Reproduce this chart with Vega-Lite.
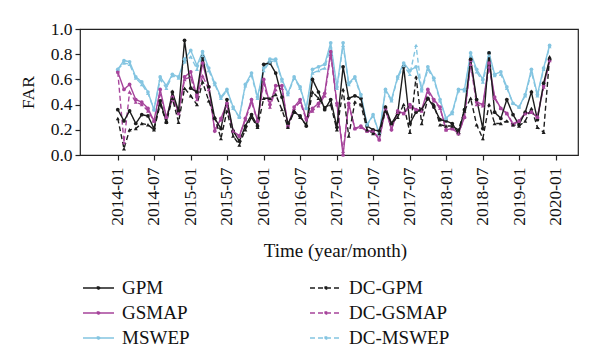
{
  "$schema": "https://vega.github.io/schema/vega-lite/v6.json",
  "width": 498,
  "height": 126,
  "autosize": "none",
  "padding": {"left": 80, "top": 29, "right": 22, "bottom": 208},
  "background": "white",
  "config": {
    "font": "Liberation Serif",
    "view": {"stroke": "#222", "strokeWidth": 1.2},
    "axis": {
      "labelFont": "Liberation Serif", "titleFont": "Liberation Serif",
      "labelColor": "#111", "titleColor": "#111",
      "labelFontSize": 17.5, "titleFontSize": 19, "titleFontWeight": "normal",
      "domain": false, "grid": false, "tickColor": "#222", "tickSize": 5, "tickWidth": 1.2
    }
  },
  "data": {"values": [
    {"month":"2014-01","GPM":0.36,"DC-GPM":0.29,"GSMAP":0.66,"DC-GSMAP":0.66,"MSWEP":0.68,"DC-MSWEP":0.68},
    {"month":"2014-02","GPM":0.27,"DC-GPM":0.05,"GSMAP":0.52,"DC-GSMAP":0.10,"MSWEP":0.75,"DC-MSWEP":0.73},
    {"month":"2014-03","GPM":0.35,"DC-GPM":0.20,"GSMAP":0.56,"DC-GSMAP":0.50,"MSWEP":0.74,"DC-MSWEP":0.72},
    {"month":"2014-04","GPM":0.25,"DC-GPM":0.21,"GSMAP":0.44,"DC-GSMAP":0.42,"MSWEP":0.62,"DC-MSWEP":0.61},
    {"month":"2014-05","GPM":0.32,"DC-GPM":0.25,"GSMAP":0.42,"DC-GSMAP":0.40,"MSWEP":0.58,"DC-MSWEP":0.56},
    {"month":"2014-06","GPM":0.31,"DC-GPM":0.24,"GSMAP":0.37,"DC-GSMAP":0.35,"MSWEP":0.50,"DC-MSWEP":0.49},
    {"month":"2014-07","GPM":0.21,"DC-GPM":0.20,"GSMAP":0.27,"DC-GSMAP":0.27,"MSWEP":0.36,"DC-MSWEP":0.36},
    {"month":"2014-08","GPM":0.43,"DC-GPM":0.40,"GSMAP":0.52,"DC-GSMAP":0.48,"MSWEP":0.62,"DC-MSWEP":0.60},
    {"month":"2014-09","GPM":0.26,"DC-GPM":0.26,"GSMAP":0.30,"DC-GSMAP":0.30,"MSWEP":0.55,"DC-MSWEP":0.53},
    {"month":"2014-10","GPM":0.50,"DC-GPM":0.45,"GSMAP":0.46,"DC-GSMAP":0.44,"MSWEP":0.64,"DC-MSWEP":0.63},
    {"month":"2014-11","GPM":0.35,"DC-GPM":0.26,"GSMAP":0.34,"DC-GSMAP":0.33,"MSWEP":0.62,"DC-MSWEP":0.61},
    {"month":"2014-12","GPM":0.91,"DC-GPM":0.53,"GSMAP":0.62,"DC-GSMAP":0.60,"MSWEP":0.76,"DC-MSWEP":0.74},
    {"month":"2015-01","GPM":0.53,"DC-GPM":0.47,"GSMAP":0.66,"DC-GSMAP":0.62,"MSWEP":0.83,"DC-MSWEP":0.78},
    {"month":"2015-02","GPM":0.50,"DC-GPM":0.40,"GSMAP":0.46,"DC-GSMAP":0.44,"MSWEP":0.71,"DC-MSWEP":0.68},
    {"month":"2015-03","GPM":0.78,"DC-GPM":0.58,"GSMAP":0.73,"DC-GSMAP":0.63,"MSWEP":0.82,"DC-MSWEP":0.79},
    {"month":"2015-04","GPM":0.54,"DC-GPM":0.43,"GSMAP":0.54,"DC-GSMAP":0.52,"MSWEP":0.69,"DC-MSWEP":0.67},
    {"month":"2015-05","GPM":0.29,"DC-GPM":0.30,"GSMAP":0.19,"DC-GSMAP":0.20,"MSWEP":0.57,"DC-MSWEP":0.56},
    {"month":"2015-06","GPM":0.21,"DC-GPM":0.13,"GSMAP":0.29,"DC-GSMAP":0.28,"MSWEP":0.46,"DC-MSWEP":0.45},
    {"month":"2015-07","GPM":0.44,"DC-GPM":0.35,"GSMAP":0.41,"DC-GSMAP":0.39,"MSWEP":0.52,"DC-MSWEP":0.51},
    {"month":"2015-08","GPM":0.19,"DC-GPM":0.15,"GSMAP":0.19,"DC-GSMAP":0.19,"MSWEP":0.38,"DC-MSWEP":0.37},
    {"month":"2015-09","GPM":0.11,"DC-GPM":0.08,"GSMAP":0.15,"DC-GSMAP":0.15,"MSWEP":0.30,"DC-MSWEP":0.30},
    {"month":"2015-10","GPM":0.23,"DC-GPM":0.20,"GSMAP":0.29,"DC-GSMAP":0.28,"MSWEP":0.56,"DC-MSWEP":0.55},
    {"month":"2015-11","GPM":0.32,"DC-GPM":0.30,"GSMAP":0.44,"DC-GSMAP":0.42,"MSWEP":0.65,"DC-MSWEP":0.63},
    {"month":"2015-12","GPM":0.23,"DC-GPM":0.22,"GSMAP":0.27,"DC-GSMAP":0.27,"MSWEP":0.46,"DC-MSWEP":0.45},
    {"month":"2016-01","GPM":0.72,"DC-GPM":0.45,"GSMAP":0.60,"DC-GSMAP":0.57,"MSWEP":0.69,"DC-MSWEP":0.67},
    {"month":"2016-02","GPM":0.73,"DC-GPM":0.45,"GSMAP":0.40,"DC-GSMAP":0.38,"MSWEP":0.76,"DC-MSWEP":0.74},
    {"month":"2016-03","GPM":0.65,"DC-GPM":0.48,"GSMAP":0.55,"DC-GSMAP":0.52,"MSWEP":0.76,"DC-MSWEP":0.75},
    {"month":"2016-04","GPM":0.46,"DC-GPM":0.36,"GSMAP":0.55,"DC-GSMAP":0.53,"MSWEP":0.60,"DC-MSWEP":0.59},
    {"month":"2016-05","GPM":0.25,"DC-GPM":0.22,"GSMAP":0.23,"DC-GSMAP":0.23,"MSWEP":0.49,"DC-MSWEP":0.48},
    {"month":"2016-06","GPM":0.34,"DC-GPM":0.35,"GSMAP":0.38,"DC-GSMAP":0.37,"MSWEP":0.62,"DC-MSWEP":0.61},
    {"month":"2016-07","GPM":0.31,"DC-GPM":0.30,"GSMAP":0.44,"DC-GSMAP":0.42,"MSWEP":0.54,"DC-MSWEP":0.53},
    {"month":"2016-08","GPM":0.23,"DC-GPM":0.24,"GSMAP":0.29,"DC-GSMAP":0.28,"MSWEP":0.37,"DC-MSWEP":0.37},
    {"month":"2016-09","GPM":0.60,"DC-GPM":0.50,"GSMAP":0.37,"DC-GSMAP":0.35,"MSWEP":0.68,"DC-MSWEP":0.65},
    {"month":"2016-10","GPM":0.50,"DC-GPM":0.45,"GSMAP":0.41,"DC-GSMAP":0.39,"MSWEP":0.70,"DC-MSWEP":0.67},
    {"month":"2016-11","GPM":0.36,"DC-GPM":0.38,"GSMAP":0.49,"DC-GSMAP":0.47,"MSWEP":0.72,"DC-MSWEP":0.69},
    {"month":"2016-12","GPM":0.44,"DC-GPM":0.40,"GSMAP":0.82,"DC-GSMAP":0.80,"MSWEP":0.89,"DC-MSWEP":0.86},
    {"month":"2017-01","GPM":0.22,"DC-GPM":0.20,"GSMAP":0.41,"DC-GSMAP":0.40,"MSWEP":0.54,"DC-MSWEP":0.53},
    {"month":"2017-02","GPM":0.70,"DC-GPM":0.52,"GSMAP":0.00,"DC-GSMAP":0.03,"MSWEP":0.89,"DC-MSWEP":0.87},
    {"month":"2017-03","GPM":0.45,"DC-GPM":0.15,"GSMAP":0.41,"DC-GSMAP":0.40,"MSWEP":0.57,"DC-MSWEP":0.56},
    {"month":"2017-04","GPM":0.47,"DC-GPM":0.42,"GSMAP":0.21,"DC-GSMAP":0.21,"MSWEP":0.62,"DC-MSWEP":0.61},
    {"month":"2017-05","GPM":0.45,"DC-GPM":0.40,"GSMAP":0.23,"DC-GSMAP":0.22,"MSWEP":0.48,"DC-MSWEP":0.47},
    {"month":"2017-06","GPM":0.23,"DC-GPM":0.20,"GSMAP":0.19,"DC-GSMAP":0.19,"MSWEP":0.24,"DC-MSWEP":0.24},
    {"month":"2017-07","GPM":0.20,"DC-GPM":0.17,"GSMAP":0.19,"DC-GSMAP":0.19,"MSWEP":0.32,"DC-MSWEP":0.31},
    {"month":"2017-08","GPM":0.19,"DC-GPM":0.17,"GSMAP":0.12,"DC-GSMAP":0.13,"MSWEP":0.17,"DC-MSWEP":0.17},
    {"month":"2017-09","GPM":0.38,"DC-GPM":0.35,"GSMAP":0.37,"DC-GSMAP":0.36,"MSWEP":0.52,"DC-MSWEP":0.51},
    {"month":"2017-10","GPM":0.25,"DC-GPM":0.25,"GSMAP":0.20,"DC-GSMAP":0.21,"MSWEP":0.44,"DC-MSWEP":0.43},
    {"month":"2017-11","GPM":0.33,"DC-GPM":0.30,"GSMAP":0.35,"DC-GSMAP":0.34,"MSWEP":0.62,"DC-MSWEP":0.61},
    {"month":"2017-12","GPM":0.70,"DC-GPM":0.40,"GSMAP":0.33,"DC-GSMAP":0.33,"MSWEP":0.73,"DC-MSWEP":0.71},
    {"month":"2018-01","GPM":0.25,"DC-GPM":0.18,"GSMAP":0.40,"DC-GSMAP":0.38,"MSWEP":0.67,"DC-MSWEP":0.64},
    {"month":"2018-02","GPM":0.34,"DC-GPM":0.62,"GSMAP":0.36,"DC-GSMAP":0.36,"MSWEP":0.70,"DC-MSWEP":0.87},
    {"month":"2018-03","GPM":0.36,"DC-GPM":0.25,"GSMAP":0.36,"DC-GSMAP":0.35,"MSWEP":0.52,"DC-MSWEP":0.51},
    {"month":"2018-04","GPM":0.45,"DC-GPM":0.45,"GSMAP":0.52,"DC-GSMAP":0.50,"MSWEP":0.70,"DC-MSWEP":0.68},
    {"month":"2018-05","GPM":0.38,"DC-GPM":0.40,"GSMAP":0.44,"DC-GSMAP":0.43,"MSWEP":0.61,"DC-MSWEP":0.60},
    {"month":"2018-06","GPM":0.28,"DC-GPM":0.24,"GSMAP":0.38,"DC-GSMAP":0.37,"MSWEP":0.44,"DC-MSWEP":0.43},
    {"month":"2018-07","GPM":0.27,"DC-GPM":0.23,"GSMAP":0.20,"DC-GSMAP":0.20,"MSWEP":0.29,"DC-MSWEP":0.29},
    {"month":"2018-08","GPM":0.25,"DC-GPM":0.23,"GSMAP":0.21,"DC-GSMAP":0.21,"MSWEP":0.34,"DC-MSWEP":0.33},
    {"month":"2018-09","GPM":0.17,"DC-GPM":0.20,"GSMAP":0.17,"DC-GSMAP":0.17,"MSWEP":0.52,"DC-MSWEP":0.51},
    {"month":"2018-10","GPM":0.36,"DC-GPM":0.35,"GSMAP":0.30,"DC-GSMAP":0.30,"MSWEP":0.52,"DC-MSWEP":0.51},
    {"month":"2018-11","GPM":0.76,"DC-GPM":0.45,"GSMAP":0.75,"DC-GSMAP":0.72,"MSWEP":0.81,"DC-MSWEP":0.79},
    {"month":"2018-12","GPM":0.44,"DC-GPM":0.24,"GSMAP":0.42,"DC-GSMAP":0.40,"MSWEP":0.68,"DC-MSWEP":0.66},
    {"month":"2019-01","GPM":0.21,"DC-GPM":0.13,"GSMAP":0.40,"DC-GSMAP":0.39,"MSWEP":0.60,"DC-MSWEP":0.58},
    {"month":"2019-02","GPM":0.81,"DC-GPM":0.40,"GSMAP":0.73,"DC-GSMAP":0.70,"MSWEP":0.81,"DC-MSWEP":0.79},
    {"month":"2019-03","GPM":0.34,"DC-GPM":0.25,"GSMAP":0.46,"DC-GSMAP":0.45,"MSWEP":0.64,"DC-MSWEP":0.63},
    {"month":"2019-04","GPM":0.29,"DC-GPM":0.25,"GSMAP":0.37,"DC-GSMAP":0.37,"MSWEP":0.66,"DC-MSWEP":0.64},
    {"month":"2019-05","GPM":0.44,"DC-GPM":0.27,"GSMAP":0.33,"DC-GSMAP":0.33,"MSWEP":0.54,"DC-MSWEP":0.53},
    {"month":"2019-06","GPM":0.32,"DC-GPM":0.24,"GSMAP":0.24,"DC-GSMAP":0.25,"MSWEP":0.41,"DC-MSWEP":0.41},
    {"month":"2019-07","GPM":0.24,"DC-GPM":0.23,"GSMAP":0.27,"DC-GSMAP":0.27,"MSWEP":0.38,"DC-MSWEP":0.38},
    {"month":"2019-08","GPM":0.34,"DC-GPM":0.27,"GSMAP":0.33,"DC-GSMAP":0.33,"MSWEP":0.48,"DC-MSWEP":0.47},
    {"month":"2019-09","GPM":0.50,"DC-GPM":0.37,"GSMAP":0.34,"DC-GSMAP":0.34,"MSWEP":0.68,"DC-MSWEP":0.66},
    {"month":"2019-10","GPM":0.28,"DC-GPM":0.22,"GSMAP":0.30,"DC-GSMAP":0.30,"MSWEP":0.48,"DC-MSWEP":0.47},
    {"month":"2019-11","GPM":0.57,"DC-GPM":0.18,"GSMAP":0.55,"DC-GSMAP":0.54,"MSWEP":0.69,"DC-MSWEP":0.68},
    {"month":"2019-12","GPM":0.76,"DC-GPM":0.78,"GSMAP":0.75,"DC-GSMAP":0.75,"MSWEP":0.87,"DC-MSWEP":0.86}
  ]},
  "transform": [
    {"fold": ["DC-MSWEP", "MSWEP", "DC-GSMAP", "GSMAP", "DC-GPM", "GPM"], "as": ["series", "FAR"]}
  ],
  "encoding": {
    "x": {
      "field": "month", "type": "temporal",
      "scale": {"type": "utc", "domain": [
        {"year": 2013, "month": 6, "date": 26, "utc": true},
        {"year": 2020, "month": 4, "date": 21, "utc": true}
      ]},
      "axis": {
        "values": [
          {"year": 2014, "month": 1, "date": 1, "utc": true},
          {"year": 2014, "month": 7, "date": 1, "utc": true},
          {"year": 2015, "month": 1, "date": 1, "utc": true},
          {"year": 2015, "month": 7, "date": 1, "utc": true},
          {"year": 2016, "month": 1, "date": 1, "utc": true},
          {"year": 2016, "month": 7, "date": 1, "utc": true},
          {"year": 2017, "month": 1, "date": 1, "utc": true},
          {"year": 2017, "month": 7, "date": 1, "utc": true},
          {"year": 2018, "month": 1, "date": 1, "utc": true},
          {"year": 2018, "month": 7, "date": 1, "utc": true},
          {"year": 2019, "month": 1, "date": 1, "utc": true},
          {"year": 2019, "month": 7, "date": 1, "utc": true},
          {"year": 2020, "month": 1, "date": 1, "utc": true}
        ],
        "labelExpr": "['2014-01','2014-07','2015-01','2015-07','2016-01','2016-07','2017-01','2017-07','2017-07','2018-01','2018-07','2019-01','2020-01'][round(((utcyear(datum.value)-2014)*12+utcmonth(datum.value))/6)]",
        "labelAngle": 270,
        "labelPadding": 7,
        "labelOverlap": false,
        "labelFlush": false,
        "title": "Time (year/month)",
        "titlePadding": 16,
        "titleX": 255
      }
    },
    "y": {
      "field": "FAR", "type": "quantitative",
      "scale": {"domain": [0, 1], "nice": false},
      "axis": {"values": [0, 0.2, 0.4, 0.6, 0.8, 1], "format": ".1f", "title": "FAR", "titleFontSize": 17.5, "titlePadding": 13, "labelPadding": 3}
    }
  },
  "layer": [
    {
      "mark": {"type": "line", "strokeWidth": 1.4},
      "encoding": {
        "color": {
          "field": "series", "type": "nominal",
          "scale": {"domain": ["GPM", "GSMAP", "MSWEP", "DC-GPM", "DC-GSMAP", "DC-MSWEP"],
                    "range": ["#1c1c1c", "#a6449b", "#84c5e1", "#1c1c1c", "#a6449b", "#84c5e1"]},
          "legend": {"orient": "none", "legendX": 7.5, "legendY": 248, "columns": 2, "columnPadding": 116, "rowPadding": 4,
                     "symbolType": "M-1.55,0L1.55,0M-0.1,-0.1L0.1,-0.1L0.1,0.1L-0.1,0.1Z", "symbolSize": 400, "symbolStrokeWidth": 1.5,
                     "labelFont": "Liberation Serif", "labelFontSize": 19, "labelColor": "#111", "labelOffset": 12.5, "labelLimit": 0, "title": null, "padding": 0}
        },
        "strokeDash": {
          "field": "series", "type": "nominal",
          "scale": {"domain": ["GPM", "GSMAP", "MSWEP", "DC-GPM", "DC-GSMAP", "DC-MSWEP"],
                    "range": [[1, 0], [1, 0], [1, 0], [5, 3], [5, 3], [5, 3]]},
          "legend": {"orient": "none", "legendX": 7.5, "legendY": 248, "columns": 2, "columnPadding": 116, "rowPadding": 4,
                     "symbolType": "M-1.55,0L1.55,0M-0.1,-0.1L0.1,-0.1L0.1,0.1L-0.1,0.1Z", "symbolSize": 400, "symbolStrokeWidth": 1.5,
                     "labelFont": "Liberation Serif", "labelFontSize": 19, "labelColor": "#111", "labelOffset": 12.5, "labelLimit": 0, "title": null, "padding": 0}
        }
      }
    },
    {
      "transform": [{"filter": {"field": "series", "oneOf": ["GPM", "GSMAP", "MSWEP"]}}],
      "mark": {"type": "point", "filled": true, "size": 14, "opacity": 1, "shape": "circle"},
      "encoding": {
        "color": {
          "field": "series", "type": "nominal",
          "scale": {"domain": ["GPM", "GSMAP", "MSWEP", "DC-GPM", "DC-GSMAP", "DC-MSWEP"],
                    "range": ["#1c1c1c", "#a6449b", "#84c5e1", "#1c1c1c", "#a6449b", "#84c5e1"]},
          "legend": null
        }
      }
    },
    {
      "transform": [{"filter": {"field": "series", "oneOf": ["DC-GPM", "DC-GSMAP", "DC-MSWEP"]}}],
      "mark": {"type": "point", "filled": true, "size": 16, "opacity": 1, "shape": "triangle-up"},
      "encoding": {
        "color": {
          "field": "series", "type": "nominal",
          "scale": {"domain": ["GPM", "GSMAP", "MSWEP", "DC-GPM", "DC-GSMAP", "DC-MSWEP"],
                    "range": ["#1c1c1c", "#a6449b", "#84c5e1", "#1c1c1c", "#a6449b", "#84c5e1"]},
          "legend": null
        }
      }
    }
  ]
}
